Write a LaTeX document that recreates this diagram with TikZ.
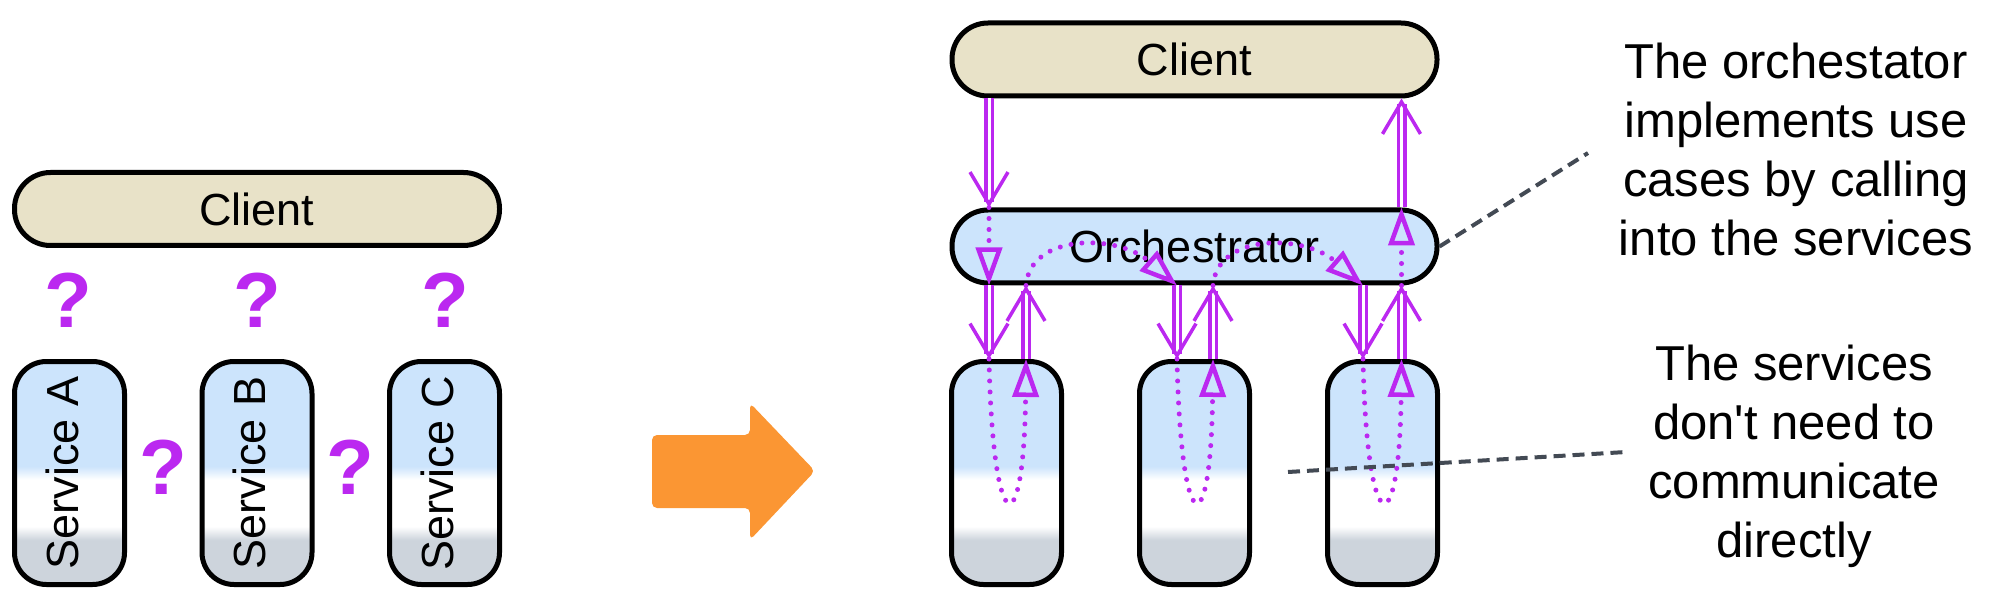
\documentclass[tikz,border=0pt]{standalone}
\usepackage{fontspec}
\setmainfont{Liberation Sans}
\usepackage{graphicx}
\usetikzlibrary{arrows.meta}

\definecolor{clientfill}{RGB}{232,226,200}
\definecolor{svcblue}{RGB}{204,228,252}
\definecolor{svcgray}{RGB}{205,212,220}
\definecolor{callpurple}{RGB}{187,40,240}
\definecolor{notegray}{RGB}{67,74,84}
\definecolor{movearrow}{RGB}{251,150,51}

\pgfdeclareverticalshading{svcshade}{100bp}{color(0bp)=(svcgray); color(35bp)=(svcgray); color(38bp)=(white); color(48.5bp)=(white); color(51.5bp)=(svcblue); color(100bp)=(svcblue)}

\begin{document}
\begin{tikzpicture}[x=0.5pt, y=-0.5pt,
    box/.style={draw=black, line width=2.5pt, inner sep=0pt},
    pill/.style={box, rounded corners=18pt, minimum width=242.5pt, minimum height=36.5pt, font=\fontsize{22.5}{27}\selectfont},
    svc/.style={box, rounded corners=16pt, minimum width=55pt, minimum height=111.5pt, shade, shading=svcshade, font=\fontsize{22.5}{27}\selectfont},
    ask/.style={text=callpurple, inner sep=0pt, font=\fontsize{39}{47}\selectfont\bfseries},
    call/.style={callpurple, line width=1.75pt, double=white, double distance=1.5pt, -{Straight Barb[length=16pt, width=19pt, line width=1.75pt]}},
    flow/.style={callpurple, line width=2.5pt, line cap=round, dash pattern=on 0pt off 5.5pt, -{Triangle[open, length=19pt, width=13pt, line width=2.25pt]}},
    note/.style={align=center, inner sep=0pt, font=\fontsize{24.5}{29.5}\selectfont},
    pointer/.style={notegray, line width=2pt, dash pattern=on 6pt off 3.5pt}]
    \useasboundingbox (0,0) rectangle (1991,604);

    % before: nobody knows who talks to whom
    \node[pill, fill=clientfill] (client) at (257,209) {Client};
    \node[svc] (svcA) at (69.5,473) {\rotatebox{90}{Service A\rule[-7.5pt]{0pt}{0pt}}};
    \node[svc] (svcB) at (257,473) {\rotatebox{90}{Service B\rule[-7.5pt]{0pt}{0pt}}};
    \node[svc] (svcC) at (444.5,473) {\rotatebox{90}{Service C\rule[-7.5pt]{0pt}{0pt}}};
    \node[ask] (askA) at (68,300) {?};
    \node[ask] (askB) at (257,300) {?};
    \node[ask] (askC) at (445,300) {?};
    \node[ask] (askAB) at (163,467) {?};
    \node[ask] (askBC) at (350,467) {?};

    \fill[movearrow, rounded corners=2.5pt] (652,435) -- (750,435) -- (750,403) -- (815,471)
        -- (750,540) -- (750,508) -- (652,508) -- cycle;

    % after: the orchestrator in the middle
    \node[pill, fill=clientfill] (client2) at (1194.5,59.5) {Client};
    \node[pill, fill=svcblue] (orch) at (1194.5,246.5) {Orchestrator};
    \node[svc] (svc1) at (1006.5,473) {};
    \node[svc] (svc2) at (1194.5,473) {};
    \node[svc] (svc3) at (1382.5,473) {};

    \coordinate (in1) at (989,0);
    \coordinate (out1) at (1026,0);
    \coordinate (in2) at (1177,0);
    \coordinate (out2) at (1213,0);
    \coordinate (in3) at (1363,0);
    \coordinate (out3) at (1401.5,0);

    \draw[call] (client2.south -| in1) -- (orch.north -| in1); % request
    \draw[call] (orch.north -| out3) -- (client2.south -| out3); % reply
    \draw[call] (orch.south -| in1) -- (svc1.north -| in1);
    \draw[call] (svc1.north -| out1) -- (orch.south -| out1);
    \draw[call] (orch.south -| in2) -- (svc2.north -| in2);
    \draw[call] (svc2.north -| out2) -- (orch.south -| out2);
    \draw[call] (orch.south -| in3) -- (svc3.north -| in3);
    \draw[call] (svc3.north -| out3) -- (orch.south -| out3);

    \draw[flow] (orch.north -| in1) -- (orch.south -| in1);
    \draw[flow] (svc1.north -| in1) .. controls +(4,186) and +(-2,186) .. (svc1.north -| out1);
    \draw[flow] (orch.south -| out1) .. controls +(4,-52) and +(-60,-52) .. (orch.south -| in2);
    \draw[flow] (svc2.north -| in2) .. controls +(4,186) and +(-2,186) .. (svc2.north -| out2);
    \draw[flow] (orch.south -| out2) .. controls +(4,-52) and +(-60,-52) .. (orch.south -| in3);
    \draw[flow] (svc3.north -| in3) .. controls +(4,186) and +(-2,186) .. (svc3.north -| out3);
    \draw[flow] (orch.south -| out3) -- (orch.north -| out3);

    % notes
    \node[note, anchor=base] (noteOrch) at (1796,256) {The orchestator\\implements use\\cases by calling\\into the services};
    \node[note, anchor=base] (noteSvc) at (1794,557) {The services\\don\textquotesingle t need to\\communicate\\directly};
    \coordinate (tipOrch) at (1588,153);
    \coordinate (fromSvc) at (1288,472);
    \coordinate (tipSvc) at (1626,452);
    \draw[pointer] (orch.east) -- (tipOrch);
    \draw[pointer] (fromSvc) -- (tipSvc);
\end{tikzpicture}
\end{document}
